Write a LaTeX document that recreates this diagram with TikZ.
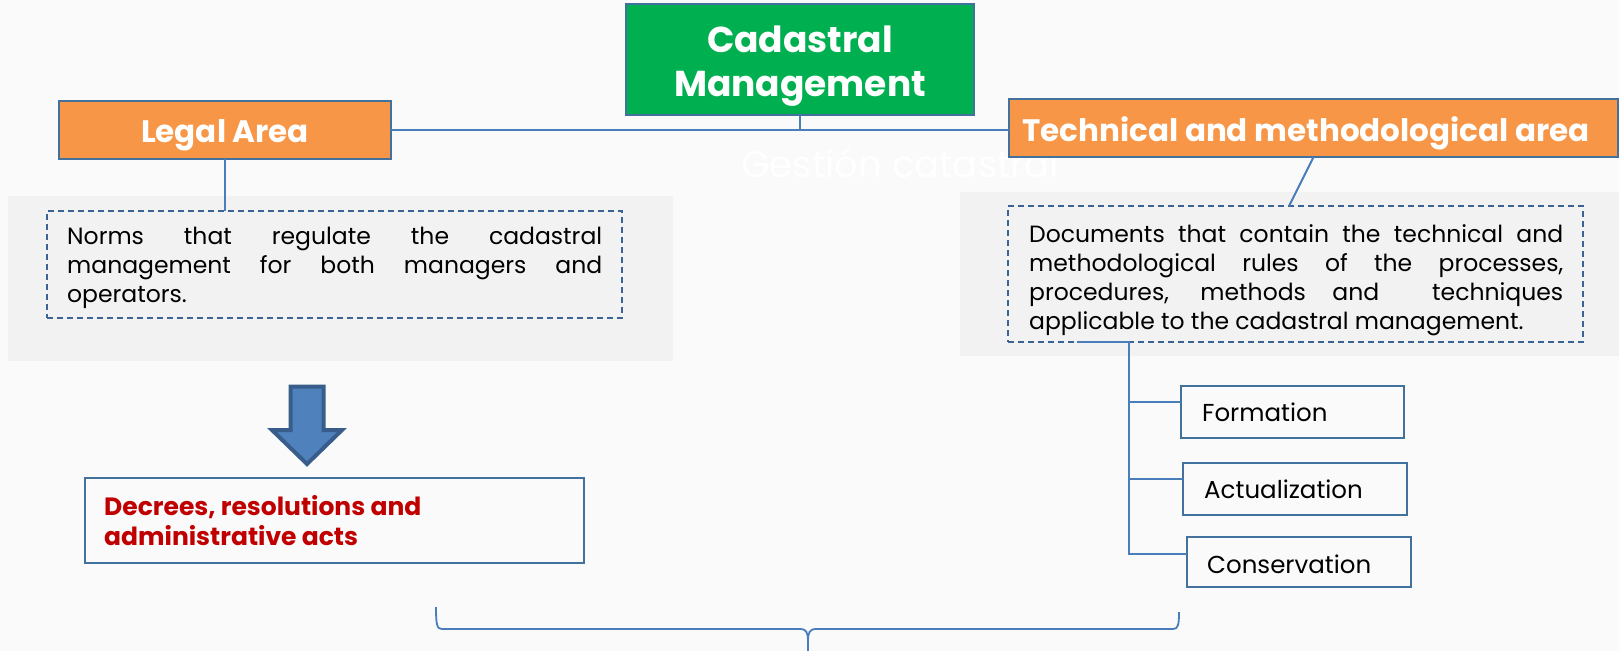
\documentclass[tikz,border=0pt]{standalone}
\usepackage{fontspec}
\setmainfont{Poppins}
\usetikzlibrary{calc}
\definecolor{bgc}{HTML}{FAFAFA}
\definecolor{panelc}{HTML}{F2F2F2}
\definecolor{greenc}{HTML}{00B050}
\definecolor{orangec}{HTML}{F79646}
\definecolor{borderc}{HTML}{41719C}
\definecolor{linec}{HTML}{4A7EBB}
\definecolor{dashc}{HTML}{3B6396}
\definecolor{arrowfill}{HTML}{4F81BD}
\definecolor{arrowdraw}{HTML}{385D8A}
\definecolor{redc}{HTML}{C00000}
\tikzset{
  box/.style={draw=borderc, line width=2pt, inner sep=0pt, outer sep=0pt},
  panel/.style={fill=panelc, draw=none, inner sep=0pt, outer sep=0pt},
  dbox/.style={draw=dashc, line width=1.6pt, dash pattern=on 6pt off 4pt, inner sep=0pt, outer sep=0pt},
  conn/.style={draw=linec, line width=2pt},
  headtxt/.style={text=white, font=\fontsize{31}{36}\selectfont\bfseries, inner sep=0pt},
  titletxt/.style={text=white, font=\fontsize{36}{44}\selectfont\bfseries, inner sep=0pt},
  bodytxt/.style={text=black, font=\fontsize{23.5}{29}\selectfont, inner sep=0pt, align=justify},
  itemtxt/.style={text=black, font=\fontsize{24.5}{29}\selectfont, inner sep=0pt},
  redtxt/.style={text=redc, font=\fontsize{25}{30}\selectfont\bfseries, inner sep=0pt},
}
\begin{document}
\begin{tikzpicture}[x=1pt,y=-1pt]
\useasboundingbox (0,0) rectangle (1619,651);
\fill[bgc] (0,0) rectangle (1619,651);
% panels
\node[panel, minimum width=665pt, minimum height=165pt] (lpanel) at (340.5,278.5) {};
\node[panel, minimum width=659pt, minimum height=164pt] (rpanel) at (1289.5,274) {};
% faint background title
\node[text=white, font=\fontsize{37}{44}\selectfont, inner sep=0pt, anchor=base west] (ghost) at (741,177) {Gestión catastral};
% main boxes
\node[box, fill=greenc, minimum width=348pt, minimum height=111pt] (cm) at (800,59.5) {};
\node[titletxt, anchor=base] (cmt1) at (800,52) {Cadastral};
\node[titletxt, anchor=base] (cmt2) at (800,96) {Management};
\node[box, fill=orangec, minimum width=332pt, minimum height=58pt] (legal) at (225,130) {};
\node[headtxt, anchor=base] (legalt) at (225,142) {Legal Area};
\node[box, fill=orangec, minimum width=609pt, minimum height=58pt] (tech) at (1313.5,128) {};
\node[headtxt, anchor=base] (techt) at (1306,141) {Technical and methodological area};
% dashed boxes
\node[dbox, minimum width=575pt, minimum height=107pt] (ldash) at (334.5,264.5) {};
\node[bodytxt, text width=535pt, anchor=north west] (ltext) at (67,227) {Norms that regulate the cadastral\linebreak management for both managers and\linebreak operators.};
\node[dbox, minimum width=575pt, minimum height=136pt] (rdash) at (1295.5,274) {};
\node[bodytxt, text width=534pt, anchor=north west] (rtext) at (1029,224) {Documents that contain the technical and\linebreak methodological rules of the processes,\linebreak procedures, methods and \ techniques\linebreak applicable to the cadastral management.};
% item boxes
\node[box, minimum width=223pt, minimum height=52pt] (form) at (1292.5,412) {};
\node[itemtxt, anchor=base west] (formt) at (1202,421) {Formation};
\node[box, minimum width=224pt, minimum height=52pt] (actu) at (1295,489) {};
\node[itemtxt, anchor=base west] (actut) at (1204,498) {Actualization};
\node[box, minimum width=224pt, minimum height=50pt] (cons) at (1299,562) {};
\node[itemtxt, anchor=base west] (const) at (1207,573) {Conservation};
% decrees box
\node[box, line width=1.5pt, minimum width=499pt, minimum height=85pt] (decr) at (334.5,520.5) {};
\node[redtxt, anchor=base west] (decrt1) at (104,515) {Decrees, resolutions and};
\node[redtxt, anchor=base west] (decrt2) at (104,545) {administrative acts};
% connectors
\draw[conn] (cm.south) -- (cm.south |- legal.east);
\draw[conn] (legal.east) -- (legal.east -| tech.west);
\draw[conn] (legal.south) -- (legal.south |- ldash.north);
\coordinate (tslant) at ($(rdash.north)+(-6.5,0)$);
\draw[conn] (tech.south) -- (tslant);
\coordinate (t0) at ($(rdash.south)+(-218.5,0)$);
\coordinate (t1) at ($(rdash.south)+(-166.5,0)$);
\coordinate (fb) at ($(form.west)+(0,-10)$);
\coordinate (ab) at ($(actu.west)+(0,-10)$);
\coordinate (cb) at ($(cons.west)+(0,-8)$);
\draw[conn] (t0) -- (t1) -- (t1 |- cb) -- (cb);
\draw[conn] (t1 |- fb) -- (fb);
\draw[conn] (t1 |- ab) -- (ab);
% block arrow
\draw[fill=arrowfill, draw=arrowdraw, line width=4pt, line join=miter]
  (290.5,386.5) -- (323.5,386.5) -- (323.5,430) -- (342,430) -- (307,464) -- (272,430) -- (290.5,430) -- cycle;
% brace
\draw[conn, line width=1.8pt]
  (436,607) .. controls (436,625) and (437,629) .. (442,629) -- (801,629)
  .. controls (806,629) and (808,633) .. (808,640)
  .. controls (808,633) and (810,629) .. (815,629) -- (1173,629)
  .. controls (1178,629) and (1179,625) .. (1179,612);
\draw[conn, line width=1.8pt] (808,640) -- (808,651);
\end{tikzpicture}
\end{document}
